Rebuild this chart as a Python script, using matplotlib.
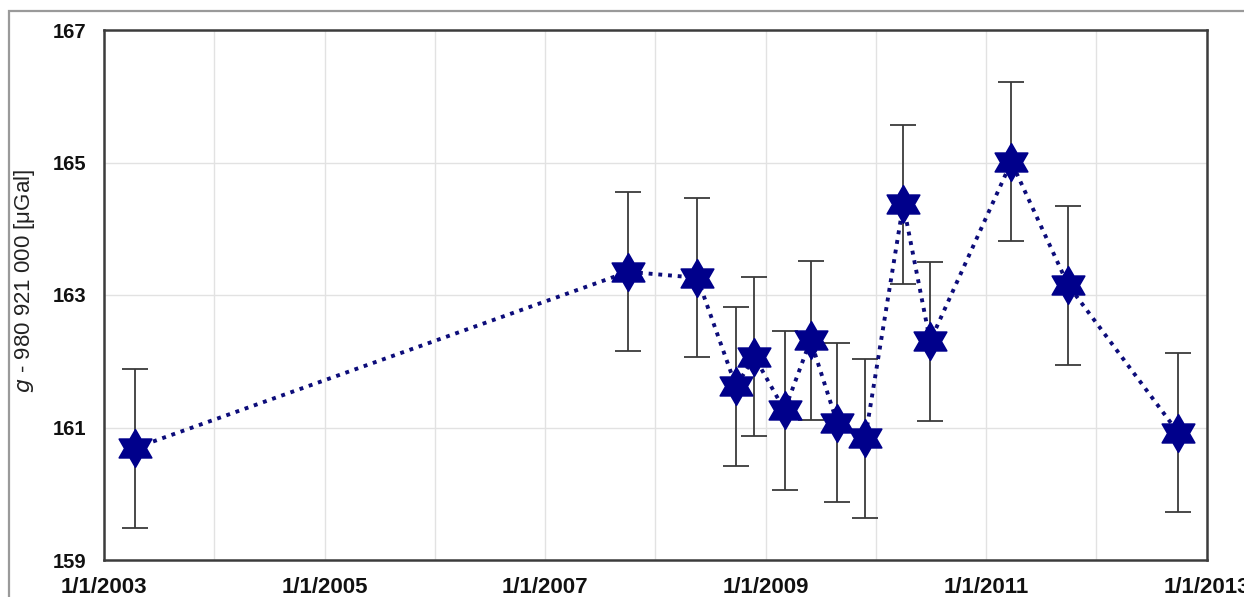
import numpy as np
import matplotlib
matplotlib.use("Agg")
import matplotlib.pyplot as plt
from matplotlib.path import Path
from matplotlib.patches import Rectangle
import datetime as dt

# ---- data ----
dates = ["2003-04-13", "2007-10-03", "2008-05-19", "2008-09-24", "2008-11-24",
         "2009-03-04", "2009-05-29", "2009-08-25", "2009-11-26", "2010-04-01",
         "2010-06-29", "2011-03-25", "2011-09-29", "2012-09-28"]
values = [160.69, 163.35, 163.26, 161.62, 162.07, 161.26, 162.32, 161.07,
          160.84, 164.37, 162.30, 165.01, 163.15, 160.92]
errors = [1.2] * len(values)
x_ticks = ["2003-01-01", "2005-01-01", "2007-01-01", "2009-01-01", "2011-01-01", "2013-01-01"]
x_tick_labels = ["1/1/2003", "1/1/2005", "1/1/2007", "1/1/2009", "1/1/2011", "1/1/2013"]
y_ticks = [159, 161, 163, 165, 167]

plt.rcParams['font.family'] = ['Liberation Sans', 'DejaVu Sans']

x = [dt.datetime.strptime(d, "%Y-%m-%d") for d in dates]

# hexagram marker
ang = np.deg2rad(90 + np.arange(12) * 30)
rad = np.where(np.arange(12) % 2 == 0, 1.0, 0.5774)
verts = np.column_stack([rad * np.cos(ang), rad * np.sin(ang)])
verts = np.vstack([verts, verts[0]])
codes = [Path.MOVETO] + [Path.LINETO] * 11 + [Path.CLOSEPOLY]
hexagram = Path(verts, codes)

fig = plt.figure(figsize=(12.44, 5.97), dpi=100)
ax = fig.add_axes([104 / 1244, 1 - 560 / 597, (1207 - 104) / 1244, (560 - 30) / 597])

# figure border
fig.patches.append(Rectangle((9 / 1244, -0.1), 1.2, 1 - 11 / 597 + 0.1,
                             transform=fig.transFigure, fill=False,
                             edgecolor='#9a9a9a', linewidth=1.6, zorder=0))

ax.errorbar(x, values, yerr=errors, fmt='none', ecolor='#3a3a3a',
            elinewidth=1.3, capsize=9.5, capthick=1.3, zorder=2)
ax.plot(x, values, color='#0c0c7a', linewidth=2.8, dashes=(1, 1.5), zorder=3)
ax.plot(x, values, linestyle='none', marker=hexagram, markersize=27,
        markerfacecolor='#00008b', markeredgecolor='#00008b', markeredgewidth=1.2,
        zorder=4)

ax.set_xlim(dt.datetime(2003, 1, 1), dt.datetime(2013, 1, 1))
ax.set_ylim(159, 167)
ax.set_xticks([dt.datetime.strptime(d, "%Y-%m-%d") for d in x_ticks])
ax.set_xticklabels(x_tick_labels)
ax.set_xticks([dt.datetime(y, 1, 1) for y in range(2004, 2013)], minor=True)
ax.set_yticks(y_ticks)
ax.set_yticklabels([str(v) for v in y_ticks])

ax.grid(True, which='both', axis='x', color='#e2e2e2', linewidth=1.0)
ax.grid(True, which='major', axis='y', color='#e2e2e2', linewidth=1.0)
ax.set_axisbelow(True)

ax.tick_params(axis='both', which='both', length=0)
ax.tick_params(axis='x', pad=12)
ax.tick_params(axis='y', pad=13)
for lab in ax.get_xticklabels():
    lab.set_fontweight('bold')
    lab.set_fontsize(16)
    lab.set_color('#111111')
for lab in ax.get_yticklabels():
    lab.set_fontweight('bold')
    lab.set_fontsize(14.5)
    lab.set_color('#111111')

for s in ax.spines.values():
    s.set_color('#3c3c3c')
    s.set_linewidth(1.8)

fig.text(25 / 1244, 1 - 281 / 597, r"$\mathit{g}$ - 980 921 000 [μGal]", rotation=90,
         ha='center', va='center', fontsize=16, color='#222222')

fig.savefig("out.png", dpi=100)
